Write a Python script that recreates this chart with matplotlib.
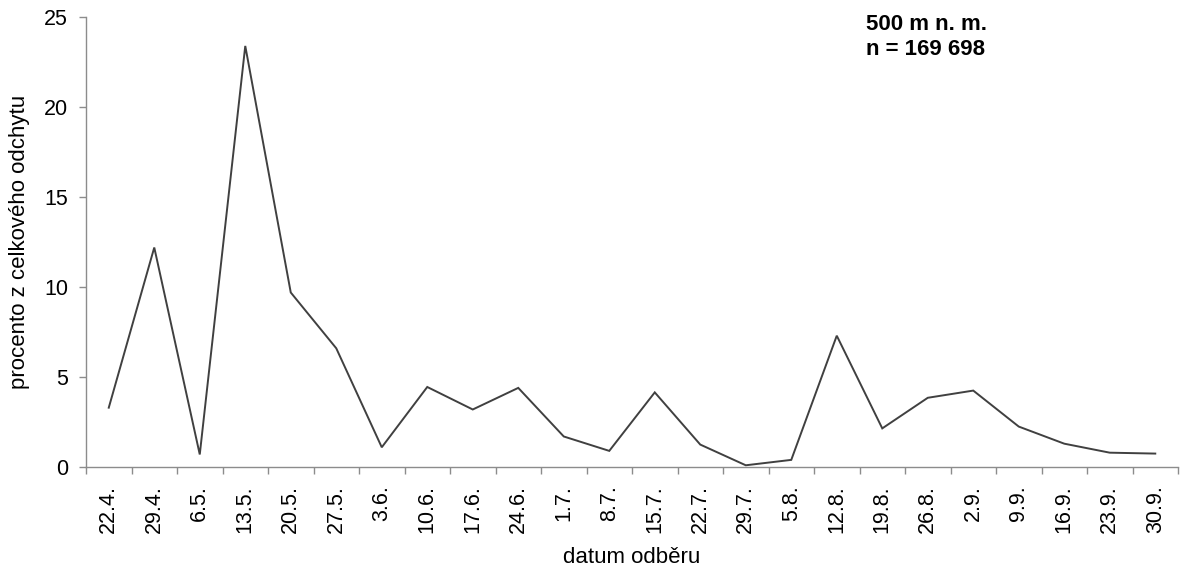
import matplotlib
matplotlib.use('Agg')
import matplotlib.pyplot as plt

plt.rcParams['font.family'] = ['Liberation Sans', 'DejaVu Sans']

# sampling dates and share of the total catch (%)
dates = ['22.4.', '29.4.', '6.5.', '13.5.', '20.5.', '27.5.', '3.6.', '10.6.',
         '17.6.', '24.6.', '1.7.', '8.7.', '15.7.', '22.7.', '29.7.', '5.8.',
         '12.8.', '19.8.', '26.8.', '2.9.', '9.9.', '16.9.', '23.9.', '30.9.']
percent = [3.3, 12.2, 0.7, 23.4, 9.7, 6.6, 1.1, 4.45,
           3.2, 4.4, 1.7, 0.9, 4.15, 1.25, 0.1, 0.4,
           7.3, 2.15, 3.85, 4.25, 2.25, 1.3, 0.8, 0.75]
note_lines = ['500 m n. m.', 'n = 169 698']

axis_grey = '#8c8c8c'
fs = 16
tick_fs = 15.5

fig = plt.figure(figsize=(11.88, 5.71), dpi=100)
ax = fig.add_axes([0.0724, 0.182, 0.9192, 0.788])

x = range(len(dates))
ax.plot(x, percent, color='#404040', linewidth=1.4, solid_joinstyle='miter')

ax.set_xlim(-0.5, len(dates) - 0.5)
ax.set_ylim(0, 25)
ax.set_yticks([0, 5, 10, 15, 20, 25])

# category ticks sit between the dates, labels centred on each date
ax.set_xticks([i - 0.5 for i in range(len(dates) + 1)])
ax.set_xticklabels([])
ax.set_xticks(list(x), minor=True)
ax.set_xticklabels(dates, minor=True, rotation=90, fontsize=tick_fs)
ax.tick_params(axis='x', which='major', length=5, color=axis_grey, width=1)
ax.tick_params(axis='x', which='minor', length=0, pad=13)
ax.tick_params(axis='y', length=5, color=axis_grey, width=1,
               labelsize=tick_fs, pad=8)

for side in ['top', 'right']:
    ax.spines[side].set_visible(False)
for side in ['left', 'bottom']:
    ax.spines[side].set_color(axis_grey)
    ax.spines[side].set_linewidth(1)

ax.set_xlabel('datum odběru', fontsize=fs, labelpad=10)
ax.set_ylabel('procento z celkového odchytu', fontsize=fs, labelpad=10)

ax.text(0.714, 1.007, '\n'.join(note_lines), transform=ax.transAxes,
        fontsize=fs, fontweight='bold', va='top', ha='left', linespacing=1.25)

fig.savefig('out.png', dpi=100)
